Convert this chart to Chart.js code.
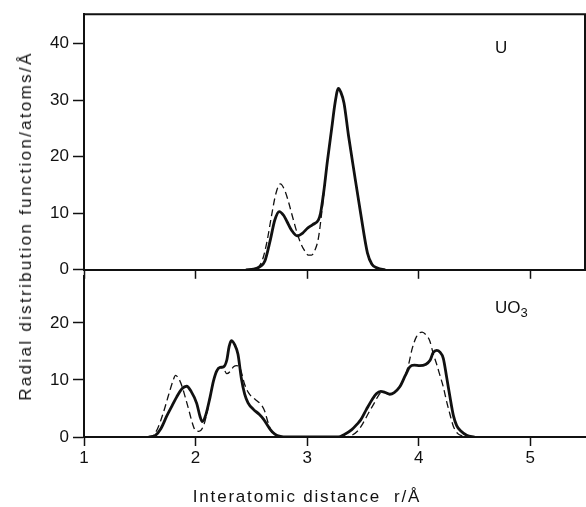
<!DOCTYPE html>
<html>
<head>
<meta charset="utf-8">
<script src="https://cdn.jsdelivr.net/npm/chart.js@4/dist/chart.umd.min.js"></script>
<style>
  body { margin: 0; background: #fff; }
  #wrap { position: relative; width: 586px; height: 507px; font-family: "Liberation Sans", Arial, sans-serif; color: #111; }
  canvas { position: absolute; left: 0; }
  .txt { position: absolute; font-size: 17px; white-space: nowrap; }
  #ytitle { left: 26px; top: 226px; transform: translate(-50%, -50%) rotate(-90deg); letter-spacing: 2.3px; }
  #xtitle { left: 307px; top: 497px; transform: translate(-50%, -50%); letter-spacing: 1.8px; }
</style>
</head>
<body>
<div id="wrap">
  <canvas id="topChart" style="top:0px"></canvas>
  <canvas id="bottomChart" style="top:262px"></canvas>
  <div class="txt" id="ytitle">Radial distribution function/atoms/Å</div>
  <div class="txt" id="xtitle">Interatomic distance&nbsp; r/Å</div>
  <div class="txt" style="left:495px; top:38px;">U</div>
  <div class="txt" style="left:495px; top:298px;">UO<sub style="font-size:13px">3</sub></div>
</div>
<script>
// tick values
const xTicks = [1, 2, 3, 4, 5];
const yTicksU = [0, 10, 20, 30, 40];
const yTicksUO3 = [0, 10, 20];

// U, solid curve
const rU = [2.45, 2.52, 2.58, 2.62, 2.67, 2.71, 2.75, 2.79, 2.82, 2.86, 2.91, 2.96, 3.0, 3.05, 3.10, 3.12, 3.15, 3.18, 3.22, 3.25, 3.28, 3.30, 3.33, 3.37, 3.42, 3.48, 3.54, 3.58, 3.63, 3.70];
const gU = [0, 0.1, 0.6, 1.5, 5.3, 8.8, 10.3, 9.6, 8.5, 7.0, 6.0, 6.5, 7.3, 8.0, 8.8, 10.0, 14.0, 19.0, 25.0, 29.5, 32.1, 31.5, 29.5, 23.8, 17.4, 9.9, 3.0, 1.0, 0.3, 0];
// U, dashed curve
const rUd = [2.45, 2.55, 2.60, 2.64, 2.68, 2.72, 2.76, 2.80, 2.83, 2.87, 2.91, 2.94, 2.97, 3.01, 3.04, 3.07, 3.10, 3.13, 3.15, 3.18];
const gUd = [0, 0.3, 1.8, 5.0, 9.5, 13.5, 15.2, 14.0, 12.2, 9.3, 6.5, 4.8, 3.6, 2.6, 2.6, 3.5, 5.5, 10.0, 13.5, 19.0];

// UO3, solid curve
const rO = [1.58, 1.64, 1.69, 1.74, 1.79, 1.83, 1.88, 1.92, 1.96, 2.01, 2.04, 2.06, 2.09, 2.13, 2.16, 2.19, 2.22, 2.25, 2.28, 2.30, 2.32, 2.35, 2.38, 2.41, 2.44, 2.47, 2.52, 2.57, 2.61, 2.64, 2.67, 2.71, 2.76, 2.82,
  3.28, 3.33, 3.40, 3.45, 3.48, 3.53, 3.58, 3.62, 3.66, 3.70, 3.74, 3.78, 3.83, 3.88, 3.92, 3.96, 4.01, 4.06, 4.10, 4.13, 4.16, 4.19, 4.22, 4.25, 4.28, 4.31, 4.34, 4.38, 4.43, 4.50];
const gO = [0, 0.3, 1.5, 3.6, 5.5, 7.0, 8.5, 8.9, 8.0, 5.9, 3.6, 2.7, 3.8, 7.0, 9.8, 11.6, 12.2, 12.3, 13.5, 15.8, 16.9, 16.2, 14.5, 10.3, 7.5, 6.0, 4.8, 4.0, 3.1, 2.2, 1.3, 0.5, 0.1, 0,
  0, 0.4, 1.3, 2.3, 3.0, 4.8, 6.5, 7.6, 8.0, 7.8, 7.5, 7.8, 8.8, 10.8, 12.3, 12.6, 12.5, 12.7, 13.4, 14.8, 15.2, 14.9, 13.8, 10.5, 7.0, 3.8, 2.0, 1.0, 0.3, 0];
// UO3, dashed curve
const rOd = [1.57, 1.61, 1.66, 1.71, 1.76, 1.80, 1.82, 1.85, 1.88, 1.91, 1.94, 1.97, 2.00, 2.03, 2.07, 2.10, 2.13, 2.16, 2.19, 2.22, 2.25, 2.28, 2.31, 2.34, 2.37, 2.40, 2.44, 2.48, 2.52, 2.56, 2.59, 2.62, 2.65, 2.68, 2.73, 2.78,
  3.33, 3.40, 3.45, 3.50, 3.55, 3.60, 3.64, 3.67, 3.70, 3.74, 3.78, 3.83, 3.88, 3.91, 3.94, 3.98, 4.03, 4.07, 4.10, 4.13, 4.16, 4.19, 4.22, 4.25, 4.27, 4.31, 4.35, 4.40];
const gOd = [0, 0.1, 1.5, 4.2, 7.5, 10.0, 10.8, 10.2, 8.8, 6.8, 4.7, 2.5, 1.1, 1.0, 1.9, 4.0, 7.0, 9.8, 11.6, 12.2, 12.0, 11.1, 11.5, 12.3, 12.5, 12.0, 9.2, 7.6, 6.8, 6.2, 5.6, 4.5, 2.5, 1.0, 0.3, 0,
  0, 0.3, 1.0, 2.4, 4.2, 5.9, 7.3, 7.9, 7.8, 7.5, 7.8, 8.8, 10.8, 12.8, 15.4, 17.6, 18.4, 17.8, 16.8, 14.6, 12.8, 10.8, 8.8, 6.2, 4.7, 1.9, 0.6, 0.1];

const pts = (xs, ys) => xs.map((x, i) => ({ x: x, y: ys[i] }));
const font = { family: "'Liberation Sans', Arial, sans-serif", size: 17 };

function lineSet(xs, ys, dashed) {
  return {
    data: pts(xs, ys),
    borderColor: "#111",
    borderWidth: dashed ? 1.3 : 2.8,
    borderDash: dashed ? [7, 4] : [],
    pointRadius: 0,
    fill: false,
    cubicInterpolationMode: "monotone",
  };
}

// top and right edges of the upper frame
const framePlugin = {
  id: "frame",
  afterDraw(chart) {
    const { ctx, chartArea: a } = chart;
    ctx.save();
    ctx.strokeStyle = "#111";
    ctx.lineWidth = 2;
    ctx.beginPath();
    ctx.moveTo(a.left, a.top);
    ctx.lineTo(a.right, a.top);
    ctx.lineTo(a.right, a.bottom);
    ctx.stroke();
    ctx.restore();
  },
};

function makeChart(id, height, padTop, xHeight, yMax, yTicks, datasets, showXLabels, plugins) {
  const canvas = document.getElementById(id);
  canvas.width = 586;
  canvas.height = height;
  canvas.style.width = "586px";
  canvas.style.height = height + "px";
  return new Chart(canvas, {
    type: "line",
    data: { datasets: datasets },
    plugins: plugins,
    options: {
      responsive: false,
      animation: false,
      layout: { padding: { top: padTop, right: 1, left: 0, bottom: 0 } },
      plugins: { legend: { display: false }, tooltip: { enabled: false } },
      scales: {
        x: {
          type: "linear",
          min: 1,
          max: 5.49,
          afterFit: (s) => { s.height = xHeight; },
          afterBuildTicks: (s) => { s.ticks = xTicks.map((v) => ({ value: v })); },
          ticks: { display: showXLabels, color: "#111", font: font, padding: 2, maxRotation: 0 },
          grid: { drawOnChartArea: false, tickLength: 9, tickWidth: 1.5, color: "#111" },
          border: { color: "#111", width: 2 },
        },
        y: {
          min: 0,
          max: yMax,
          afterFit: (s) => { s.width = 84; },
          afterBuildTicks: (s) => { s.ticks = yTicks.map((v) => ({ value: v })); },
          ticks: { color: "#111", font: font, padding: 4 },
          grid: { drawOnChartArea: false, tickLength: 11, tickWidth: 1.5, color: "#111" },
          border: { color: "#111", width: 2 },
        },
      },
    },
  });
}

makeChart("topChart", 284, 12, 10, 45.2, yTicksU,
  [lineSet(rUd, gUd, true), lineSet(rU, gU, false)], false, [framePlugin]);

makeChart("bottomChart", 245, 12, 70, 28.2, yTicksUO3,
  [lineSet(rOd, gOd, true), lineSet(rO, gO, false)], true, []);
</script>
</body>
</html>
